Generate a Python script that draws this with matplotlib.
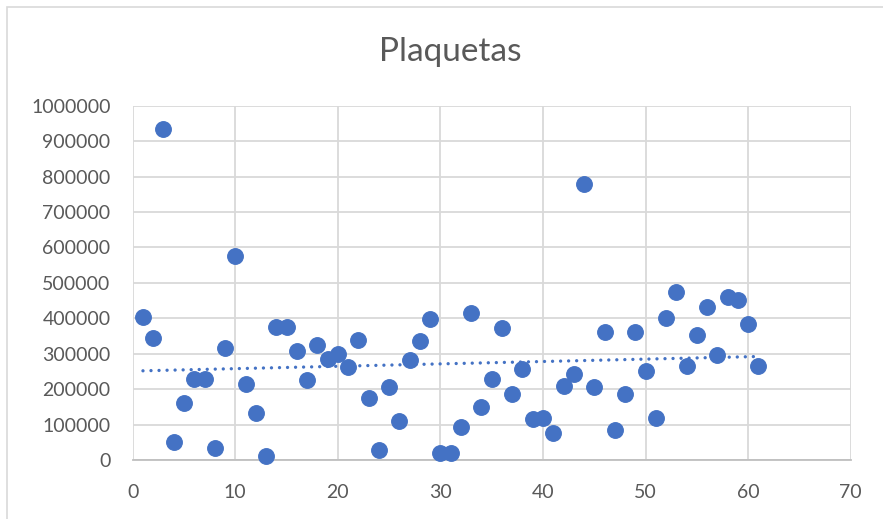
import numpy as np
import matplotlib.pyplot as plt
from matplotlib.patches import Rectangle

# Platelet counts per sample (x = sample number)
sample = list(range(1, 62))
plaquetas = [
    405000, 343000, 934000, 51000, 162000, 228000, 229000, 33000, 315000, 576000,
    214000, 132000, 12000, 376000, 374000, 308000, 226000, 324000, 284000, 299000,
    262000, 340000, 174000, 28000, 205000, 110000, 282000, 336000, 397000, 19000,
    19000, 94000, 415000, 150000, 230000, 372000, 186000, 257000, 116000, 118000,
    75000, 209000, 242000, 778000, 206000, 362000, 86000, 185000, 362000, 252000,
    118000, 402000, 473000, 265000, 353000, 432000, 295000, 459000, 452000, 383000,
    265000,
]
x_ticks = [0, 10, 20, 30, 40, 50, 60, 70]
y_ticks = list(range(0, 1000001, 100000))

BLUE = '#4472C4'
TEXT = '#595959'
GRID = '#d9d9d9'

W, H = 883, 519
fig = plt.figure(figsize=(W / 100, H / 100), dpi=100)
fig.patches.append(Rectangle((7.5 / W, -0.1), 1.1, (H - 7.5) / H + 0.1,
                             transform=fig.transFigure, fill=False,
                             edgecolor=GRID, linewidth=1.2))

ax = fig.add_axes([132.7 / W, 59 / H, 718 / W, 354.3 / H])

x = np.array(sample)
y = np.array(plaquetas)
ax.scatter(x, y, s=128, color=BLUE, edgecolors=BLUE, linewidths=0.8, zorder=3, clip_on=False)

# linear trendline over the sample range, round dots
k, b = np.polyfit(x, y, 1)
xt = np.array([x.min(), x.max()])
ax.plot(xt, k * xt + b, color=BLUE, linewidth=2.4, linestyle=(0, (0.01, 2.4)),
        dash_capstyle='round', zorder=2)

ax.set_xlim(0, 70)
ax.set_ylim(0, 1000000)
ax.set_xticks(x_ticks)
ax.set_yticks(y_ticks)
ax.set_yticklabels([str(v) for v in y_ticks])
ax.grid(True, color=GRID, linewidth=1.3, zorder=0)
ax.set_axisbelow(True)
for side in ['top', 'right', 'left']:
    ax.spines[side].set_visible(False)
ax.spines['bottom'].set_color('#bfbfbf')
ax.spines['bottom'].set_linewidth(1.3)
ax.tick_params(length=0, labelcolor=TEXT, labelsize=14)
ax.tick_params(axis='y', pad=16)
ax.tick_params(axis='x', pad=17)
for lbl in ax.get_xticklabels() + ax.get_yticklabels():
    lbl.set_family('Lato')

fig.text(450 / W, 1 - 52 / H, 'Plaquetas', ha='center', va='center',
         fontsize=24, color=TEXT, family='Lato')

fig.savefig('out.png', dpi=100)
